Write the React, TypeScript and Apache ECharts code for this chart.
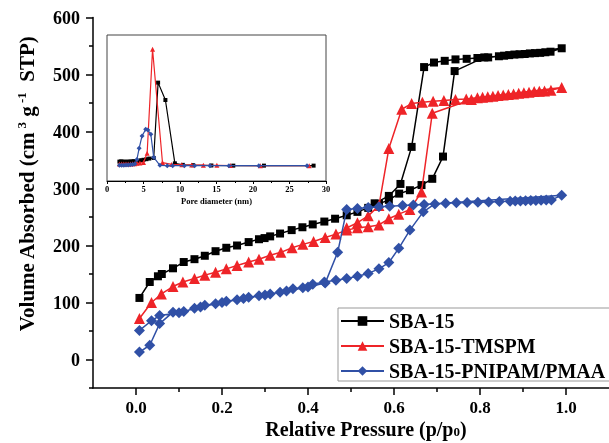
import React, { useEffect, useRef } from 'react';
import * as echarts from 'echarts';

const FONT = '"Liberation Serif", "Times New Roman", Times, serif';

// ---------- data ----------
const seriesNames = ['SBA-15', 'SBA-15-TMSPM', 'SBA-15-PNIPAM/PMAA'];

// SBA-15 isotherm: adsorption branch, then desorption branch
const sba15Ads: number[][] = [
  [0.008, 108], [0.032, 136], [0.051, 146], [0.06, 150], [0.086, 160], [0.111, 171], [0.136, 176],
  [0.16, 182], [0.185, 190], [0.21, 196], [0.235, 200], [0.262, 206], [0.286, 211], [0.299, 213],
  [0.312, 216], [0.335, 221], [0.362, 227], [0.387, 232], [0.411, 237], [0.438, 242], [0.463, 247],
  [0.49, 253], [0.515, 259], [0.54, 266], [0.565, 273], [0.588, 280], [0.612, 291], [0.637, 297],
  [0.664, 306], [0.689, 317], [0.714, 356], [0.741, 506], [0.81, 530], [0.856, 533], [0.868, 534],
  [0.88, 535], [0.892, 535.5], [0.904, 536], [0.916, 537], [0.928, 537.5], [0.94, 538], [0.952, 539],
  [0.964, 540], [0.99, 546],
];
const sba15Des: number[][] = [
  [0.844, 532], [0.819, 530], [0.794, 529], [0.769, 527.5], [0.743, 526.5], [0.718, 524], [0.693, 521],
  [0.67, 513], [0.641, 373], [0.615, 308], [0.588, 287], [0.555, 274],
];

const tmspmAds: number[][] = [
  [0.008, 72], [0.036, 100], [0.059, 115], [0.086, 128], [0.109, 136], [0.136, 142], [0.16, 148],
  [0.185, 153], [0.21, 159], [0.235, 165], [0.262, 171], [0.286, 176], [0.312, 183], [0.337, 188],
  [0.363, 196], [0.388, 202], [0.413, 207], [0.44, 214], [0.465, 220], [0.49, 227], [0.515, 231],
  [0.54, 233], [0.565, 236], [0.588, 247], [0.611, 255], [0.637, 263], [0.664, 294], [0.689, 432],
  [0.78, 456], [0.794, 459], [0.806, 460], [0.818, 461], [0.83, 462], [0.842, 463], [0.854, 464],
  [0.866, 465], [0.878, 466], [0.89, 467], [0.902, 468], [0.914, 469], [0.926, 470], [0.938, 470.5],
  [0.95, 471], [0.965, 472.5], [0.99, 477],
];
const tmspmDes: number[][] = [
  [0.768, 457], [0.743, 456], [0.716, 454.5], [0.691, 453], [0.666, 451.5], [0.641, 449], [0.618, 439],
  [0.588, 370], [0.565, 270], [0.54, 252], [0.515, 240], [0.49, 231],
];

const pnipamAds: number[][] = [
  [0.008, 13], [0.032, 25], [0.055, 63], [0.086, 83], [0.111, 84], [0.136, 90], [0.16, 95],
  [0.185, 98], [0.21, 102], [0.235, 105], [0.262, 109], [0.286, 112], [0.312, 115], [0.335, 118],
  [0.365, 124], [0.388, 126], [0.411, 132], [0.438, 136], [0.465, 139], [0.49, 142], [0.515, 146],
  [0.54, 151], [0.565, 159], [0.588, 170], [0.611, 195], [0.637, 227], [0.668, 259], [0.695, 273],
  [0.72, 274], [0.745, 275], [0.77, 275.5], [0.795, 276], [0.82, 276.5], [0.845, 277], [0.87, 277.5],
  [0.882, 278], [0.894, 278], [0.906, 278.5], [0.918, 279], [0.93, 279], [0.942, 279.5], [0.954, 280],
  [0.966, 280], [0.99, 288],
];
const pnipamDes: number[][] = [
  [0.67, 272], [0.645, 271], [0.62, 270], [0.59, 269], [0.565, 268], [0.54, 266.5], [0.515, 265],
  [0.49, 263], [0.469, 188], [0.44, 134], [0.4, 127], [0.35, 120], [0.3, 113], [0.25, 107],
  [0.2, 100], [0.15, 92], [0.1, 82], [0.055, 77], [0.036, 68], [0.008, 51],
];

// inset: pore size distribution (arbitrary units)
const sba15Psd: number[][] = [
  [1.7, 0.026], [1.9, 0.027], [2.1, 0.026], [2.3, 0.025], [2.5, 0.025], [2.7, 0.025], [2.9, 0.025],
  [3.1, 0.026], [3.3, 0.026], [3.5, 0.027], [3.7, 0.028], [3.9, 0.029], [4.1, 0.03], [4.4, 0.032],
  [4.7, 0.035], [5.0, 0.038], [5.4, 0.042], [5.8, 0.046], [6.4, 0.05], [7.0, 0.54], [8.0, 0.427],
  [9.3, 0.015], [10.4, 0.005], [11.8, 0.003], [14.3, 0.001], [17.3, 0], [21.5, 0], [28.3, 0],
];
const tmspmPsd: number[][] = [
  [1.7, 0.01], [2.0, 0.01], [2.3, 0.01], [2.6, 0.01], [2.9, 0.01], [3.2, 0.011], [3.5, 0.012],
  [3.8, 0.013], [4.1, 0.015], [4.5, 0.017], [5.0, 0.02], [5.5, 0.08], [6.24, 0.757], [7.6, 0.02],
  [8.85, 0.008], [10.25, 0.005], [11.6, 0.004], [13.2, 0.003], [15.05, 0.002], [16.9, 0.001],
  [21.0, 0], [27.7, 0],
];
const pnipamPsd: number[][] = [
  [1.7, 0.003], [2.0, 0.003], [2.3, 0.003], [2.6, 0.004], [2.9, 0.004], [3.2, 0.005], [3.5, 0.007],
  [3.8, 0.01], [4.1, 0.04], [4.4, 0.113], [4.8, 0.193], [5.3, 0.236], [5.6, 0.232], [6.0, 0.204],
  [6.4, 0.054], [7.25, 0.002], [8.25, 0], [9.0, 0], [10.6, 0], [12.0, 0], [14.1, 0], [16.7, 0],
  [20.8, 0], [27.4, 0],
];

// tick values
const xTickValues = [0, 0.2, 0.4, 0.6, 0.8, 1.0];
const xMinorTickValues = [0.1, 0.3, 0.5, 0.7, 0.9];
const yTickValues = [0, 100, 200, 300, 400, 500, 600];
const yMinorTickValues = [-50, 50, 150, 250, 350, 450, 550];

// ---------- styles ----------
const colors = ['#000000', '#ee2428', '#3050a6'];
const symbols = ['rect', 'triangle', 'diamond'];
const symbolSizes = [8, 11, 11];
const insetSymbolSizes = [4, 5, 5];

export default function App() {
  const ref = useRef<HTMLDivElement>(null);
  useEffect(() => {
    if (!ref.current) return;
    const chart = echarts.init(ref.current, undefined, { renderer: 'svg' });
    const mainData = [
      sba15Ads.concat(sba15Des),
      tmspmAds.concat(tmspmDes),
      pnipamAds.concat(pnipamDes),
    ];
    const insetData = [sba15Psd, tmspmPsd, pnipamPsd];
    const axisLineStyle = { color: '#000', width: 1.5 };
    const labelStyle = { fontSize: 18, fontWeight: 'bold', color: '#000', fontFamily: FONT };

    const option: any = {
      animation: false,
      textStyle: { fontFamily: FONT },
      grid: [
        { left: 93, top: 17.5, right: -6, bottom: 55 },
        { left: 107, top: 35, width: 219, height: 146, show: true, borderColor: '#444', borderWidth: 1, backgroundColor: '#fff' },
      ],
      xAxis: [
        {
          type: 'value', gridIndex: 0, min: -0.1, max: 1.1, position: 'bottom',
          axisLine: { show: true, onZero: false, lineStyle: axisLineStyle },
          axisTick: { show: true, inside: false, length: 7, customValues: xTickValues, lineStyle: axisLineStyle },
          axisLabel: { show: true, customValues: xTickValues, margin: 11, ...labelStyle, fontSize: 17, lineHeight: 17, formatter: (v: number) => v.toFixed(1) },
          splitLine: { show: false },
        },
        {
          type: 'value', gridIndex: 0, min: -0.1, max: 1.1, position: 'bottom',
          axisLine: { show: false, onZero: false },
          axisTick: { show: true, inside: false, length: 4, customValues: xMinorTickValues, lineStyle: axisLineStyle },
          axisLabel: { show: false },
          splitLine: { show: false },
        },
        {
          type: 'value', gridIndex: 1, min: 0, max: 30, interval: 5, position: 'bottom',
          axisLine: { show: true, onZero: false, lineStyle: { color: '#000', width: 1 } },
          axisTick: { show: true, inside: false, length: 3, lineStyle: { color: '#000', width: 1 } },
          minorTick: { show: true, splitNumber: 2, length: 2, lineStyle: { color: '#000', width: 1 } },
          axisLabel: { show: true, margin: 3, fontSize: 8.5, fontWeight: 'bold', color: '#000', fontFamily: FONT },
          splitLine: { show: false },
          name: 'Pore diameter (nm)', nameLocation: 'middle', nameGap: 15,
          nameTextStyle: { fontSize: 8.5, fontWeight: 'bold', color: '#000', fontFamily: FONT },
        },
      ],
      yAxis: [
        {
          type: 'value', gridIndex: 0, min: -50, max: 600, position: 'left',
          axisLine: { show: true, onZero: false, lineStyle: axisLineStyle },
          axisTick: { show: true, inside: false, length: 7, customValues: yTickValues, lineStyle: axisLineStyle },
          axisLabel: { show: true, customValues: yTickValues, margin: 13, ...labelStyle },
          splitLine: { show: false },
        },
        {
          type: 'value', gridIndex: 0, min: -50, max: 600, position: 'left',
          axisLine: { show: false, onZero: false },
          axisTick: { show: true, inside: false, length: 4, customValues: yMinorTickValues, lineStyle: axisLineStyle },
          axisLabel: { show: false },
          splitLine: { show: false },
        },
        {
          type: 'value', gridIndex: 1, min: -0.1, max: 0.85, show: false,
          splitLine: { show: false },
        },
      ],
      legend: {
        data: seriesNames,
        orient: 'vertical',
        left: 338,
        top: 308,
        itemWidth: 43,
        itemHeight: 12,
        itemGap: 5,
        padding: [3, 30, 0, 2],
        borderColor: '#999',
        borderWidth: 1,
        backgroundColor: '#fff',
        selectedMode: false,
        textStyle: { fontSize: 20, fontWeight: 'bold', fontFamily: FONT, color: '#000', lineHeight: 20 },
      },
      graphic: [
        {
          type: 'text', x: 27, y: 184, rotation: Math.PI / 2,
          style: {
            text: '{a|Volume Absorbed (cm}{s| 3}{a| g}{s| -1}{a|  STP)}',
            align: 'center', verticalAlign: 'middle', fill: '#000',
            rich: {
              a: { fontSize: 21, fontWeight: 'bold', fontFamily: FONT, lineHeight: 24, fill: '#000', verticalAlign: 'middle' },
              s: { fontSize: 13, fontWeight: 'bold', fontFamily: FONT, lineHeight: 12, fill: '#000', verticalAlign: 'top' },
            },
          },
        },
        {
          type: 'text', x: 366, y: 429,
          style: {
            text: '{a|Relative Pressure (p/p}{b|0}{a|)}',
            align: 'center', verticalAlign: 'middle', fill: '#000',
            rich: {
              a: { fontSize: 20, fontWeight: 'bold', fontFamily: FONT, lineHeight: 18, fill: '#000', verticalAlign: 'middle' },
              b: { fontSize: 13, fontWeight: 'bold', fontFamily: FONT, lineHeight: 10, fill: '#000', verticalAlign: 'bottom' },
            },
          },
        },
      ],
      series: [
        ...seriesNames.map((name, i) => ({
          name, type: 'line', xAxisIndex: 0, yAxisIndex: 0, data: mainData[i],
          symbol: symbols[i], symbolSize: symbolSizes[i], showAllSymbol: true,
          lineStyle: { color: colors[i], width: 1.5 }, itemStyle: { color: colors[i] },
          z: 3 + i,
        })),
        ...seriesNames.map((name, i) => ({
          name: name + ' PSD', type: 'line', xAxisIndex: 2, yAxisIndex: 2, data: insetData[i],
          symbol: symbols[i], symbolSize: insetSymbolSizes[i], showAllSymbol: true,
          lineStyle: { color: colors[i], width: 1.2 }, itemStyle: { color: colors[i] },
          z: 3 + i,
        })),
      ],
    };
    chart.setOption(option);
    return () => chart.dispose();
  }, []);
  return <div ref={ref} style={{ position: 'fixed', left: 0, top: 0, width: 609, height: 443 }} />;
}
